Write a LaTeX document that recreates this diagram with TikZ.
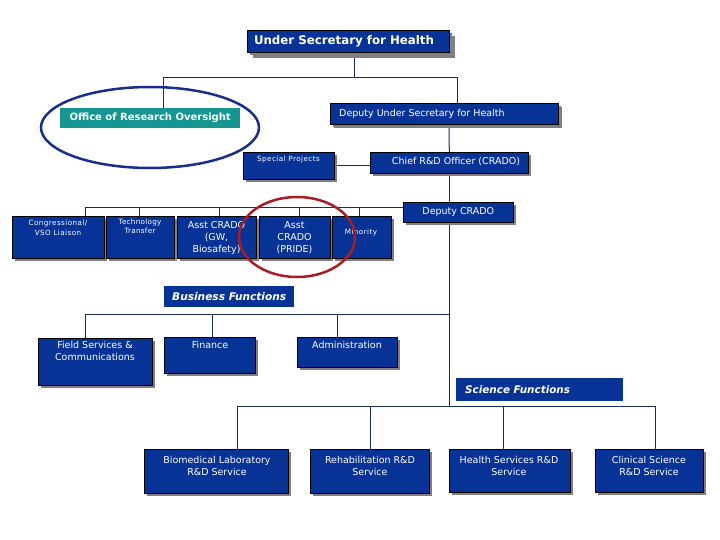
\documentclass[tikz,border=0pt]{standalone}
\usepackage{fontspec}
\setmainfont{DejaVu Sans}
\usetikzlibrary{shadows}
\pgfdeclarelayer{bg}
\pgfsetlayers{bg,main}
\definecolor{boxblue}{RGB}{8,51,150}
\definecolor{teal2}{RGB}{22,150,145}
\definecolor{shadowgray}{RGB}{128,128,128}
\definecolor{linecol}{RGB}{25,45,90}
\definecolor{ellblue}{RGB}{25,45,140}
\definecolor{ellred}{RGB}{170,28,35}
\tikzset{
  orgbox/.style={draw=black, line width=0.6pt, fill=boxblue, anchor=north west, inner sep=0pt,
    drop shadow={shadow xshift=3pt, shadow yshift=-3pt, fill=shadowgray, opacity=1}},
  flatbox/.style={fill=boxblue, anchor=north west, inner sep=0pt},
  lbl/.style={text=white, align=center, inner sep=0pt, font=\fontsize{9.5}{12}\selectfont},
  smalllbl/.style={lbl, font=\fontsize{7.2}{10}\selectfont\addfontfeatures{LetterSpace=6}},
  conn/.style={draw=linecol, line width=1pt},
}
\newcommand\mybox[6][]{%
  \pgfmathsetmacro\bw{#5-#3}\pgfmathsetmacro\bh{#6-#4}%
  \node[orgbox,#1,minimum width=\bw pt,minimum height=\bh pt] (#2) at (#3,#4) {};}
\begin{document}
\begin{tikzpicture}[x=1pt,y=-1pt]
\useasboundingbox (0,0) rectangle (720,540);
% boxes
\mybox[drop shadow={shadow xshift=6pt, shadow yshift=-6pt, fill=shadowgray, opacity=1}]{us}{247}{30}{449}{52}
\mybox[drop shadow={shadow xshift=4pt, shadow yshift=-4pt, fill=shadowgray, opacity=1}]{dus}{330}{103}{558}{124}
\node[flatbox, fill=teal2, minimum width=180pt, minimum height=20pt] (oro) at (60,108) {};
\mybox{sp}{243}{152}{334}{179}
\mybox{crado}{370}{152}{528}{173}
\mybox{dc}{403}{202}{513}{222}
\mybox{cong}{12}{216}{104}{258}
\mybox{tech}{106}{216}{174}{258}
\mybox{asstA}{177}{216}{256}{258}
\mybox{asstB}{259}{216}{330}{258}
\mybox{minor}{332}{216}{391}{258}
\node[flatbox, minimum width=130pt, minimum height=21pt] (bf) at (164,286) {};
\mybox{fs}{38}{338}{152}{385}
\mybox{fin}{164}{337}{255}{373}
\mybox{adm}{297}{337}{397}{367}
\node[flatbox, minimum width=167pt, minimum height=23pt] (sf) at (456,378) {};
\mybox{bio}{144}{449}{288}{493}
\mybox{reh}{310}{449}{429}{493}
\mybox{hs}{449}{449}{570}{492}
\mybox{cs}{595}{449}{703}{492}
% texts
\node[lbl, font=\fontsize{11.8}{14}\selectfont\bfseries] (us-t) at (344,41) {Under Secretary for Health};
\node[lbl, anchor=west] (dus-t) at ([xshift=9pt]dus.west) {Deputy Under Secretary for Health};
\node[lbl, font=\fontsize{10}{12}\selectfont\bfseries] (oro-t) at (oro.center) {Office of Research Oversight};
\node[smalllbl] (sp-t) at (288.5,160) {Special Projects};
\node[lbl] (crado-t) at (456,162) {Chief R\&D Officer (CRADO)};
\node[lbl] (dc-t) at (dc.center) {Deputy CRADO};
\node[smalllbl, anchor=north] (cong-t) at (58,220) {Congressional/\\VSO Liaison};
\node[smalllbl, anchor=north, font=\fontsize{7.2}{9}\selectfont\addfontfeatures{LetterSpace=4}] (tech-t) at (140,219) {Technology\\Transfer};
\node[lbl, anchor=north] (asstA-t) at (216.5,221) {Asst CRADO\\(GW,\\Biosafety)};
\node[lbl, anchor=north] (asstB-t) at (294.5,221) {Asst\\CRADO\\(PRIDE)};
\node[smalllbl] (minor-t) at (361,233) {Minority};
\node[lbl, font=\fontsize{10.6}{12}\selectfont\bfseries\itshape] (bf-t) at (bf.center) {Business Functions};
\node[lbl, anchor=north] (fs-t) at (95,341) {Field Services \&\\Communications};
\node[lbl, anchor=north] (fin-t) at (210,341) {Finance};
\node[lbl, anchor=north] (adm-t) at (347,341) {Administration};
\node[lbl, anchor=west, font=\fontsize{10.4}{12}\selectfont\bfseries\itshape] (sf-t) at ([xshift=9pt]sf.west) {Science Functions};
\node[lbl, anchor=north] (bio-t) at (217,456) {Biomedical Laboratory\\R\&D Service};
\node[lbl, anchor=north] (reh-t) at (370,456) {Rehabilitation R\&D\\Service};
\node[lbl, anchor=north] (hs-t) at (509,456) {Health Services R\&D\\Service};
\node[lbl, anchor=north] (cs-t) at (649,456) {Clinical Science\\R\&D Service};
% junctions
\coordinate (a1) at (163,78); \coordinate (a2) at (354,78); \coordinate (a3) at (457,78);
\coordinate (b1) at (449,130);
\coordinate (c1) at (85,208); \coordinate (c2) at (139,208); \coordinate (c3) at (219,208);
\coordinate (c4) at (299,208); \coordinate (c5) at (359,208);
\coordinate (d1) at (449,314); \coordinate (d2) at (449,406);
\coordinate (e1) at (85,314); \coordinate (e2) at (212,314); \coordinate (e3) at (337,314);
\coordinate (f1) at (237,406); \coordinate (f2) at (370,406); \coordinate (f3) at (503,406); \coordinate (f4) at (655,406);
\begin{pgfonlayer}{bg}
\draw[conn] (a2 |- us.south) -- (a2);
\draw[conn] (a1 |- oro.north) -- (a1) -- (a3) -- (a3 |- dus.north);
\draw[conn] (b1 |- dus.south) -- (crado.north);
\draw[conn] (sp.east) -- (sp.east -| crado.west);
\draw[conn] (crado.south) -- (crado.south |- dc.north);
\draw[conn] (c1 |- cong.north) -- (c1) -- (c1 -| dc.west);
\draw[conn] (c2) -- (c2 |- tech.north);
\draw[conn] (c3) -- (c3 |- asstA.north);
\draw[conn] (c4) -- (c4 |- asstB.north);
\draw[conn] (c5) -- (c5 |- minor.north);
\draw[conn] (d2 |- dc.south) -- (d2);
\draw[conn] (e1 |- fs.north) -- (e1) -- (d1);
\draw[conn] (e2) -- (e2 |- fin.north);
\draw[conn] (e3) -- (e3 |- adm.north);
\draw[conn] (f1 |- bio.north) -- (f1) -- (f4) -- (f4 |- cs.north);
\draw[conn] (f2) -- (f2 |- reh.north);
\draw[conn] (f3) -- (f3 |- hs.north);
\end{pgfonlayer}
% highlight ellipses
\draw[ellblue, line width=2.5pt] (150,127.5) ellipse [x radius=109, y radius=40.5];
\draw[ellred, line width=2.5pt] (297,237) ellipse [x radius=58, y radius=40];
\end{tikzpicture}
\end{document}
